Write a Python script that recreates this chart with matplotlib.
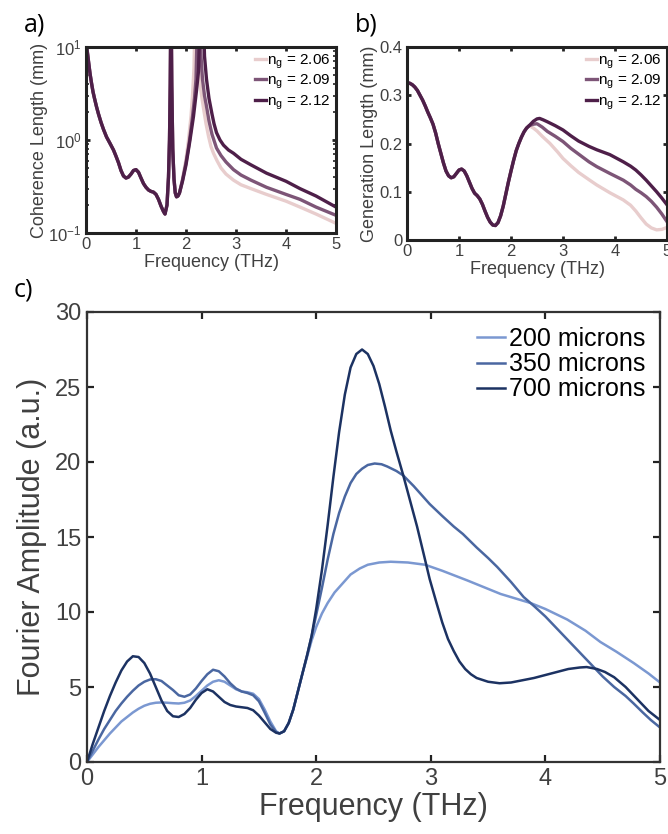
import numpy as np
import matplotlib
matplotlib.use('Agg')
import matplotlib.pyplot as plt

plt.rcParams['font.family'] = ['Liberation Sans', 'DejaVu Sans']
plt.rcParams['mathtext.fontset'] = 'custom'
plt.rcParams['mathtext.rm'] = 'Liberation Sans'
plt.rcParams['mathtext.it'] = 'Liberation Sans:italic'
plt.rcParams['lines.solid_joinstyle'] = 'round'

# ---- panel a: coherence length (mm), log scale ----
# shared low-frequency part (all three curves overlap)
coh_x_common = [0.0, 0.02, 0.05, 0.08, 0.11, 0.14, 0.17, 0.21, 0.25, 0.3, 0.35, 0.41, 0.48,
                0.55, 0.6, 0.65, 0.7, 0.75, 0.8, 0.85, 0.9, 0.95, 1.0, 1.05, 1.1, 1.15, 1.2,
                1.25, 1.3, 1.35, 1.4, 1.45, 1.5, 1.55, 1.58, 1.62, 1.65, 1.67, 1.685, 1.695,
                1.705, 1.715, 1.735, 1.76, 1.785, 1.81, 1.84]
coh_y_common = [12, 9.5, 7.0, 5.2, 4.1, 3.3, 2.8, 2.28, 1.9, 1.55, 1.3, 1.08, 0.92,
                0.78, 0.67, 0.57, 0.47, 0.41, 0.39, 0.4, 0.43, 0.47, 0.48, 0.45, 0.39, 0.34, 0.31,
                0.29, 0.28, 0.275, 0.26, 0.23, 0.195, 0.17, 0.16, 0.2, 0.4, 1.0, 4.0, 20,
                20, 4.0, 0.8, 0.38, 0.27, 0.245, 0.25]
# individual tails around the phase-matching pole
coh_x_206 = [1.87, 1.93, 2.0, 2.05, 2.1, 2.13, 2.16, 2.18, 2.23, 2.25, 2.28, 2.32, 2.35, 2.4,
             2.45, 2.5, 2.55, 2.62, 2.7, 2.8, 2.95, 3.1, 3.3, 3.61, 4.0, 4.28, 4.6, 5.0]
coh_y_206 = [0.27, 0.38, 0.62, 1.0, 1.8, 3.0, 6.0, 20, 20, 7.0, 4.0, 2.8, 2.2, 1.5,
             1.1, 0.85, 0.72, 0.6, 0.5, 0.43, 0.37, 0.33, 0.3, 0.26, 0.22, 0.19, 0.16, 0.127]
coh_x_209 = [1.87, 1.93, 2.0, 2.06, 2.12, 2.17, 2.2, 2.23, 2.28, 2.3, 2.33, 2.37, 2.41, 2.46,
             2.52, 2.61, 2.7, 2.8, 2.95, 3.1, 3.3, 3.61, 4.0, 4.28, 4.6, 5.0]
coh_y_209 = [0.27, 0.37, 0.57, 0.9, 1.6, 2.8, 4.5, 20, 20, 8.0, 4.5, 3.0, 2.3, 1.6,
             1.15, 0.82, 0.68, 0.58, 0.48, 0.42, 0.37, 0.31, 0.26, 0.23, 0.19, 0.155]
coh_x_212 = [1.87, 1.93, 2.0, 2.08, 2.15, 2.21, 2.25, 2.28, 2.35, 2.37, 2.41, 2.46, 2.52,
             2.56, 2.61, 2.68, 2.75, 2.85, 2.95, 3.1, 3.3, 3.61, 4.0, 4.28, 4.6, 5.0]
coh_y_212 = [0.27, 0.36, 0.54, 1.0, 1.8, 3.4, 5.5, 20, 20, 8.0, 4.5, 2.8, 1.9,
             1.5, 1.2, 1.0, 0.88, 0.78, 0.72, 0.62, 0.54, 0.44, 0.36, 0.3, 0.25, 0.19]

# ---- panel b: generation length (mm) ----
gen_x_common = [0.0, 0.05, 0.1, 0.15, 0.2, 0.25, 0.3, 0.35, 0.4, 0.45, 0.5, 0.55, 0.6, 0.65,
                0.7, 0.75, 0.8, 0.85, 0.9, 0.95, 1.0, 1.05, 1.1, 1.15, 1.2, 1.25, 1.3, 1.35,
                1.4, 1.45, 1.5, 1.55, 1.6, 1.65, 1.7, 1.75, 1.8, 1.85, 1.9, 1.95, 2.0, 2.05,
                2.1, 2.15, 2.2, 2.25, 2.3, 2.35]
gen_y_common = [0.326, 0.325, 0.322, 0.317, 0.31, 0.3, 0.29, 0.278, 0.265, 0.253, 0.24, 0.222,
                0.2, 0.18, 0.16, 0.143, 0.133, 0.129, 0.131, 0.138, 0.145, 0.147, 0.143, 0.133,
                0.12, 0.107, 0.097, 0.092, 0.085, 0.074, 0.06, 0.047, 0.037, 0.031, 0.03, 0.036,
                0.05, 0.07, 0.095, 0.12, 0.143, 0.165, 0.185, 0.2, 0.213, 0.224, 0.232, 0.237]
gen_x_206 = [2.43, 2.5, 2.6, 2.75, 2.9, 3.0, 3.15, 3.3, 3.5, 3.65, 3.9, 4.16, 4.3, 4.4, 4.5,
             4.6, 4.7, 4.8, 4.9, 5.0]
gen_y_206 = [0.232, 0.226, 0.215, 0.2, 0.182, 0.169, 0.154, 0.14, 0.125, 0.114, 0.098, 0.083,
             0.072, 0.06, 0.046, 0.033, 0.025, 0.021, 0.022, 0.026]
gen_x_209 = [2.43, 2.5, 2.6, 2.7, 2.85, 3.0, 3.15, 3.3, 3.5, 3.65, 3.9, 4.16, 4.3, 4.4, 4.5,
             4.6, 4.7, 4.8, 4.9, 5.0]
gen_y_209 = [0.24, 0.241, 0.234, 0.225, 0.215, 0.204, 0.19, 0.178, 0.162, 0.152, 0.138, 0.124,
             0.114, 0.105, 0.098, 0.09, 0.08, 0.068, 0.054, 0.038]
gen_x_212 = [2.43, 2.5, 2.55, 2.62, 2.7, 2.85, 3.0, 3.15, 3.3, 3.5, 3.65, 3.9, 4.16, 4.3, 4.4,
             4.5, 4.6, 4.7, 4.8, 4.9, 5.0]
gen_y_212 = [0.246, 0.251, 0.252, 0.249, 0.245, 0.237, 0.228, 0.216, 0.205, 0.194, 0.187, 0.177,
             0.162, 0.153, 0.145, 0.135, 0.124, 0.112, 0.1, 0.087, 0.073]

ng_labels = ['2.06', '2.09', '2.12']
ng_colors = ['#e8cdcd', '#7d5577', '#4e1f49']

# ---- panel c: Fourier amplitude ----
amp_x_200 = [0.0, 0.05, 0.1, 0.15, 0.2, 0.25, 0.3, 0.35, 0.4, 0.45, 0.5, 0.55, 0.6, 0.65, 0.7,
             0.75, 0.8, 0.85, 0.9, 0.95, 1.0, 1.05, 1.1, 1.15, 1.2, 1.25, 1.3, 1.35, 1.4, 1.45,
             1.5, 1.55, 1.6, 1.65, 1.68, 1.72, 1.76, 1.8, 1.84, 1.88, 1.92, 1.96, 2.0, 2.05,
             2.1, 2.16, 2.23, 2.3, 2.38, 2.45, 2.55, 2.65, 2.8, 2.95, 3.1, 3.32, 3.61, 3.87,
             4.0, 4.19, 4.35, 4.48, 4.62, 4.77, 4.9, 5.0]
amp_y_200 = [0.0, 0.5, 1.0, 1.45, 1.9, 2.3, 2.7, 3.0, 3.3, 3.55, 3.75, 3.88, 3.95, 3.97, 3.95,
             3.92, 3.9, 3.95, 4.1, 4.4, 4.75, 5.1, 5.35, 5.45, 5.35, 5.1, 4.85, 4.7, 4.65, 4.55,
             4.2, 3.5, 2.7, 2.05, 1.9, 2.05, 2.6, 3.5, 4.7, 5.9, 7.0, 8.1, 9.0, 9.9,
             10.6, 11.3, 11.9, 12.5, 12.9, 13.15, 13.3, 13.35, 13.3, 13.15, 12.75, 12.1, 11.2, 10.6,
             10.2, 9.5, 8.75, 8.0, 7.35, 6.6, 5.9, 5.3]
amp_x_350 = [0.0, 0.05, 0.1, 0.15, 0.2, 0.25, 0.3, 0.35, 0.4, 0.45, 0.5, 0.55, 0.6, 0.65, 0.7,
             0.75, 0.8, 0.85, 0.9, 0.95, 1.0, 1.05, 1.1, 1.15, 1.2, 1.25, 1.3, 1.35, 1.4, 1.45,
             1.5, 1.55, 1.6, 1.65, 1.68, 1.72, 1.76, 1.8, 1.84, 1.88, 1.92, 1.96, 2.0, 2.05,
             2.1, 2.15, 2.2, 2.25, 2.3, 2.35, 2.4, 2.45, 2.51, 2.57, 2.62, 2.7, 2.76, 2.85,
             2.92, 2.99, 3.1, 3.2, 3.28, 3.4, 3.5, 3.58, 3.7, 3.81, 3.9, 4.0, 4.1, 4.2, 4.3,
             4.4, 4.5, 4.6, 4.7, 4.77, 4.85, 4.92, 5.0]
amp_y_350 = [0.0, 0.75, 1.5, 2.2, 2.8, 3.4, 3.9, 4.35, 4.75, 5.1, 5.35, 5.5, 5.52, 5.4, 5.1,
             4.8, 4.45, 4.35, 4.5, 4.9, 5.4, 5.85, 6.15, 6.05, 5.7, 5.25, 4.9, 4.7, 4.6, 4.45,
             4.05, 3.3, 2.5, 2.0, 1.9, 2.05, 2.6, 3.5, 4.7, 5.9, 7.1, 8.4, 9.8, 11.6,
             13.5, 15.2, 16.6, 17.7, 18.6, 19.2, 19.55, 19.8, 19.9, 19.85, 19.7, 19.4, 19.1, 18.4,
             17.8, 17.2, 16.4, 15.7, 15.2, 14.3, 13.6, 13.0, 12.0, 11.0, 10.4, 9.7, 8.9, 8.1, 7.3,
             6.5, 5.7, 5.0, 4.4, 3.9, 3.3, 2.8, 2.3]
amp_x_700 = [0.0, 0.05, 0.1, 0.15, 0.2, 0.25, 0.3, 0.35, 0.4, 0.45, 0.5, 0.55, 0.6, 0.65, 0.7,
             0.75, 0.8, 0.85, 0.9, 0.95, 1.0, 1.05, 1.1, 1.15, 1.2, 1.25, 1.3, 1.35, 1.4, 1.45,
             1.5, 1.55, 1.6, 1.65, 1.68, 1.72, 1.76, 1.8, 1.84, 1.88, 1.92, 1.96, 2.0, 2.05,
             2.1, 2.15, 2.2, 2.25, 2.3, 2.35, 2.4, 2.45, 2.5, 2.55, 2.6, 2.65, 2.7, 2.76, 2.82,
             2.88, 2.94, 2.99, 3.05, 3.1, 3.15, 3.2, 3.25, 3.3, 3.35, 3.4, 3.5, 3.6, 3.7, 3.8,
             3.9, 4.0, 4.1, 4.2, 4.3, 4.36, 4.45, 4.52, 4.6, 4.7, 4.8, 4.9, 5.0]
amp_y_700 = [0.0, 1.2, 2.3, 3.4, 4.4, 5.3, 6.1, 6.7, 7.05, 7.0, 6.6, 5.9, 5.0, 4.1, 3.4,
             3.05, 3.0, 3.2, 3.6, 4.15, 4.6, 4.85, 4.7, 4.35, 4.0, 3.8, 3.7, 3.65, 3.6, 3.45,
             3.1, 2.65, 2.2, 1.95, 1.9, 2.05, 2.6, 3.5, 4.7, 5.9, 7.1, 8.4, 10.2, 12.8,
             15.8, 19.0, 22.0, 24.5, 26.3, 27.2, 27.5, 27.2, 26.4, 25.2, 23.7, 22.1, 20.7, 19.1, 17.4,
             15.7, 13.8, 12.2, 10.6, 9.3, 8.2, 7.4, 6.7, 6.2, 5.85, 5.6, 5.35, 5.25, 5.3, 5.45,
             5.6, 5.8, 6.0, 6.2, 6.3, 6.33, 6.2, 6.0, 5.65, 5.0, 4.2, 3.4, 2.8]
thick_labels = ['200 microns', '350 microns', '700 microns']
thick_colors = ['#7b98d1', '#4a67a1', '#1c3262']

txt = '#404040'

fig = plt.figure(figsize=(6.68, 8.34), dpi=100)

def style_small(ax):
    for s in ax.spines.values():
        s.set_linewidth(2.2)
        s.set_color('#222222')
    ax.tick_params(which='major', direction='in', top=True, right=True, length=3,
                   width=2, labelsize=12, colors='#222222', labelcolor=txt, pad=3)
    ax.tick_params(which='minor', direction='in', top=False, right=True, length=2,
                   width=1.2, colors='#222222')

# panel a
axa = fig.add_axes([86/668, 1-233/834, 250/668, 186/834])
tails_a = [(coh_x_206, coh_y_206), (coh_x_209, coh_y_209), (coh_x_212, coh_y_212)]
for (tx, ty), lab, col in zip(tails_a, ng_labels, ng_colors):
    axa.plot(coh_x_common + tx, coh_y_common + ty, color=col, lw=2.4,
             label=r'$\mathregular{n_g}$ = ' + lab)
axa.set_yscale('log')
axa.set_xlim(0, 5)
axa.set_ylim(0.1, 10)
axa.set_xticks([0, 1, 2, 3, 4, 5])
style_small(axa)
axa.set_xlabel('Frequency (THz)', fontsize=13, color=txt, labelpad=1)
axa.set_ylabel('Coherence Length (mm)', fontsize=13, color=txt, labelpad=0)
axa.legend(loc='upper right', frameon=False, fontsize=11, handlelength=0.7,
           handletextpad=0.1, labelspacing=0.15, borderaxespad=0.05, borderpad=0.3)

# panel b
axb = fig.add_axes([407/668, 1-240/834, 260/668, 193/834])
tails_b = [(gen_x_206, gen_y_206), (gen_x_209, gen_y_209), (gen_x_212, gen_y_212)]
for (tx, ty), lab, col in zip(tails_b, ng_labels, ng_colors):
    axb.plot(gen_x_common + tx, gen_y_common + ty, color=col, lw=2.4,
             label=r'$\mathregular{n_g}$ = ' + lab)
axb.set_xlim(0, 5)
axb.set_ylim(0, 0.4)
axb.set_xticks([0, 1, 2, 3, 4, 5])
axb.set_yticks([0, 0.1, 0.2, 0.3, 0.4])
axb.set_yticklabels(['0', '0.1', '0.2', '0.3', '0.4'])
style_small(axb)
axb.set_xlabel('Frequency (THz)', fontsize=13, color=txt, labelpad=1)
axb.set_ylabel('Generation Length (mm)', fontsize=13, color=txt, labelpad=1)
axb.legend(loc='upper right', frameon=False, fontsize=11, handlelength=0.7,
           handletextpad=0.1, labelspacing=0.15, borderaxespad=0.05, borderpad=0.3)

# panel c
axc = fig.add_axes([87/668, 1-762/834, 573/668, 450/834])
series_c = [(amp_x_200, amp_y_200), (amp_x_350, amp_y_350), (amp_x_700, amp_y_700)]
for (sx, sy), lab, col in zip(series_c, thick_labels, thick_colors):
    axc.plot(sx, sy, color=col, lw=1.8, label=lab)
axc.set_xlim(0, 5)
axc.set_ylim(0, 30)
axc.set_xticks([0, 1, 2, 3, 4, 5])
axc.set_yticks([0, 5, 10, 15, 20, 25, 30])
for s in axc.spines.values():
    s.set_linewidth(1.6)
    s.set_color('#333333')
axc.tick_params(direction='in', top=True, right=True, length=5, width=1.6,
                labelsize=17, colors='#222222', labelcolor=txt, pad=4)
axc.set_xlabel('Frequency (THz)', fontsize=22, color=txt, labelpad=2)
axc.set_ylabel('Fourier Amplitude (a.u.)', fontsize=22, color=txt, labelpad=6)
axc.legend(loc='upper right', frameon=False, fontsize=18, handlelength=1.1,
           handletextpad=0.15, labelspacing=0.05, borderaxespad=0.3, borderpad=0.3)

# panel letters
fig.text(24/668, 1-25/834, 'a)', fontsize=18, family='Open Sans', va='center', ha='left')
fig.text(355/668, 1-25/834, 'b)', fontsize=18, family='Open Sans', va='center', ha='left')
fig.text(14/668, 1-290/834, 'c)', fontsize=18, family='Open Sans', va='center', ha='left')

fig.savefig('out.png', dpi=100)
